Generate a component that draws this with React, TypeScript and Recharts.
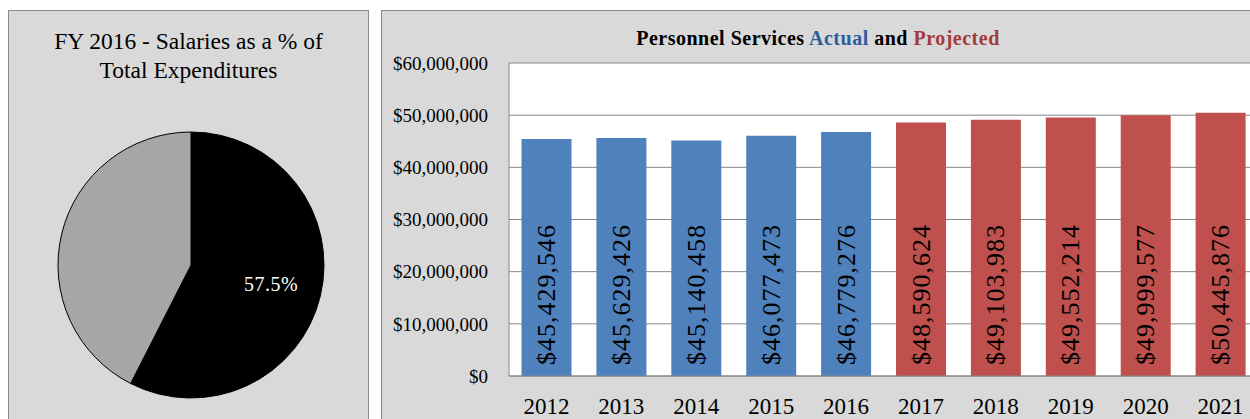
import React from 'react';
import { PieChart, Pie, Cell, BarChart, Bar, XAxis, YAxis, CartesianGrid, LabelList } from 'recharts';

// pie: FY 2016 salaries share of total expenditures
const pieNames = ['Salaries', 'Other'];
const pieValues = [57.5, 42.5];
const pieColors = ['#000000', '#a6a6a6'];

// bars: personnel services by year
const years = ['2012', '2013', '2014', '2015', '2016', '2017', '2018', '2019', '2020', '2021'];
const amounts = [45429546, 45629426, 45140458, 46077473, 46779276, 48590624, 49103983, 49552214, 49999577, 50445876];
const kinds = ['actual', 'actual', 'actual', 'actual', 'actual', 'projected', 'projected', 'projected', 'projected', 'projected'];
const yTicks = [0, 10000000, 20000000, 30000000, 40000000, 50000000, 60000000];

const kindColor: Record<string, string> = { actual: '#4f81bd', projected: '#c0504d' };
const serif = '"Liberation Serif", "Times New Roman", serif';

const pieData = pieNames.map((name, i) => ({ name, value: pieValues[i] }));
const barData = years.map((year, i) => ({ year, amount: amounts[i], kind: kinds[i] }));

const money = (v: number) => '$' + Number(v).toLocaleString('en-US');

const RAD = Math.PI / 180;
const pieLabel = (p: any) => {
  if (p.index !== 0) return null;
  const r = p.outerRadius * 0.62;
  const x = p.cx + r * Math.cos(-p.midAngle * RAD);
  const y = p.cy + r * Math.sin(-p.midAngle * RAD);
  return (
    <text
      x={x}
      y={y}
      fill="#ffffff"
      textAnchor="middle"
      dominantBaseline="central"
      fontFamily={serif}
      fontSize={20}
      letterSpacing={0.5}
    >
      {pieValues[0].toFixed(1)}%
    </text>
  );
};

const barLabel = (p: any) => {
  const x = p.x + p.width / 2;
  const y = p.y + p.height - 11;
  return (
    <text
      x={x}
      y={y}
      transform={`rotate(-90, ${x}, ${y})`}
      textAnchor="start"
      dominantBaseline="central"
      fontFamily={serif}
      fontSize={26}
      letterSpacing={1}
      fill="#000000"
    >
      {money(p.value)}
    </text>
  );
};

const panel: React.CSSProperties = {
  position: 'absolute',
  top: 10,
  height: 420,
  background: '#d9d9d9',
  border: '1px solid #8a8a8a',
  boxSizing: 'border-box',
};

export default function App() {
  return (
    <div style={{ position: 'fixed', left: 0, top: 0, width: 1250, height: 419, overflow: 'hidden', background: '#fff' }}>
      <div style={{ ...panel, left: 8, width: 361 }} />
      <div style={{ ...panel, left: 381, width: 900 }} />

      <div
        style={{
          position: 'absolute',
          left: 8,
          top: 27,
          width: 361,
          textAlign: 'center',
          fontFamily: serif,
          fontSize: 23.5,
          lineHeight: '29px',
          color: '#000',
        }}
      >
        FY 2016 - Salaries as a % of
        <br />
        Total Expenditures
      </div>

      <div style={{ position: 'absolute', left: 8, top: 10 }}>
        <PieChart width={361} height={409}>
          <Pie
            data={pieData}
            dataKey="value"
            nameKey="name"
            cx={178}
            cy={250}
            outerRadius={133}
            startAngle={90}
            endAngle={-270}
            stroke="#000000"
            strokeWidth={1}
            label={pieLabel}
            labelLine={false}
            isAnimationActive={false}
          >
            {pieData.map((d, i) => (
              <Cell key={d.name} fill={pieColors[i]} />
            ))}
          </Pie>
        </PieChart>
      </div>

      <div
        style={{
          position: 'absolute',
          left: 518,
          top: 28,
          width: 600,
          textAlign: 'center',
          fontFamily: serif,
          fontWeight: 'bold',
          fontSize: 20,
          letterSpacing: 0.5,
          lineHeight: '20px',
          color: '#000',
        }}
      >
        Personnel Services <span style={{ color: '#2c5d9b' }}>Actual</span> and{' '}
        <span style={{ color: '#a33b3b' }}>Projected</span>
      </div>

      <div style={{ position: 'absolute', left: 381, top: 10 }}>
        <BarChart width={900} height={420} data={barData} margin={{ top: 53, right: 23, bottom: 0, left: 0 }} barCategoryGap="16.7%">
          <CartesianGrid vertical={false} stroke="#868686" fill="#ffffff" />
          <XAxis
            dataKey="year"
            height={54}
            tickSize={0}
            tickMargin={22}
            axisLine={{ stroke: '#868686' }}
            tick={{ fontFamily: serif, fontSize: 23, fill: '#000' }}
          />
          <YAxis
            width={128}
            domain={[0, 60000000]}
            ticks={yTicks}
            tickFormatter={money}
            tickSize={0}
            tickMargin={21}
            axisLine={{ stroke: '#868686' }}
            tick={{ fontFamily: serif, fontSize: 19, fill: '#000' }}
          />
          <Bar dataKey="amount" isAnimationActive={false}>
            {barData.map((d) => (
              <Cell key={d.year} fill={kindColor[d.kind]} />
            ))}
            <LabelList dataKey="amount" content={barLabel} />
          </Bar>
        </BarChart>
      </div>
    </div>
  );
}
